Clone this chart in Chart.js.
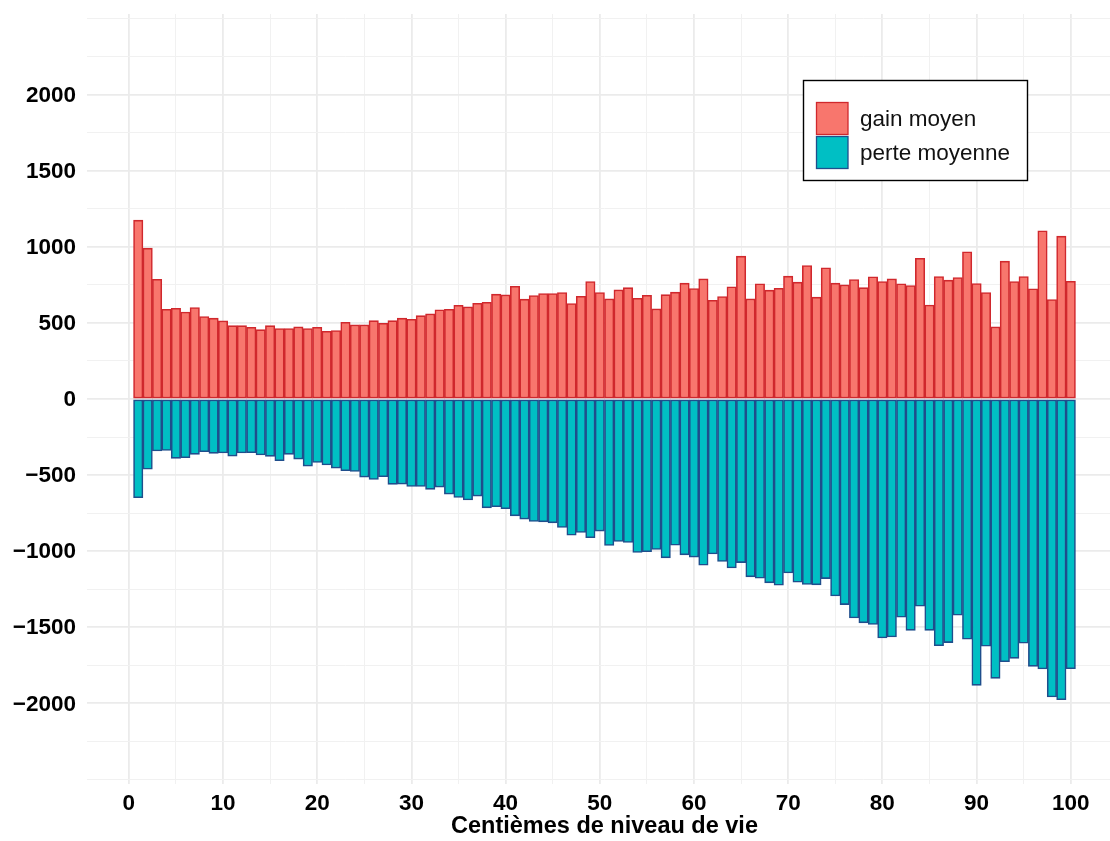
<!DOCTYPE html>
<html>
<head>
<meta charset="utf-8">
<script src="https://cdn.jsdelivr.net/npm/chart.js@4.4.1/dist/chart.umd.min.js"></script>
<style>
  html, body { margin: 0; padding: 0; background: #ffffff; overflow: hidden; }
  #wrap { position: relative; width: 1125px; height: 841px; }
</style>
</head>
<body>
<div id="wrap"><canvas id="c"></canvas></div>
<script>
// ---- data ----
const centiles = [1,2,3,4,5,6,7,8,9,10,11,12,13,14,15,16,17,18,19,20,21,22,23,24,25,26,27,28,29,30,31,32,33,34,35,36,37,38,39,40,41,42,43,44,45,46,47,48,49,50,51,52,53,54,55,56,57,58,59,60,61,62,63,64,65,66,67,68,69,70,71,72,73,74,75,76,77,78,79,80,81,82,83,84,85,86,87,88,89,90,91,92,93,94,95,96,97,98,99,100];

const gainMoyen = [1175, 991, 787, 590, 596, 572, 601, 542, 531, 513,
  482, 482, 471, 456, 482, 463, 463, 474, 463, 471,
  445, 450, 504, 487, 487, 515, 498, 515, 531, 524,
  548, 559, 586, 590, 616, 605, 629, 636, 689, 684,
  741, 656, 680, 693, 693, 700, 627, 675, 772, 700,
  658, 717, 732, 662, 682, 592, 686, 702, 761, 726,
  789, 649, 673, 737, 939, 658, 757, 715, 728, 807,
  768, 877, 669, 862, 761, 750, 785, 732, 803, 772,
  789, 757, 746, 925, 618, 805, 781, 798, 967, 759,
  700, 474, 906, 772, 805, 724, 1105, 654, 1070, 774];

const perteMoyenne = [-649, -461, -342, -338, -390, -386, -364, -346, -357, -355,
  -375, -355, -353, -368, -377, -406, -364, -395, -441, -417,
  -434, -454, -471, -476, -513, -529, -511, -561, -559, -575,
  -575, -594, -579, -625, -647, -664, -638, -715, -708, -721,
  -768, -789, -805, -807, -814, -844, -895, -877, -912, -868,
  -963, -936, -943, -1009, -1004, -989, -1044, -961, -1024, -1039,
  -1092, -1018, -1068, -1110, -1075, -1169, -1178, -1208, -1224, -1143,
  -1204, -1219, -1221, -1180, -1294, -1351, -1439, -1471, -1482, -1570,
  -1564, -1434, -1520, -1362, -1520, -1621, -1601, -1421, -1579, -1882,
  -1625, -1836, -1726, -1704, -1605, -1757, -1774, -1958, -1976, -1772];

const seriesNames = ['gain moyen', 'perte moyenne'];
const xTitle = 'Centièmes de niveau de vie';

// grid / tick positions
const xGridValues = [0,5,10,15,20,25,30,35,40,45,50,55,60,65,70,75,80,85,90,95,100];
const xLabelValues = [0,10,20,30,40,50,60,70,80,90,100];
const yGridValues = [-2500,-2250,-2000,-1750,-1500,-1250,-1000,-750,-500,-250,0,250,500,750,1000,1250,1500,1750,2000,2250,2500];
const yLabelValues = [-2000,-1500,-1000,-500,0,500,1000,1500,2000];

// ---- style ----
const FONT = "'Liberation Sans', Arial, Helvetica, sans-serif";
const redFill = '#F8766D', redLine = '#D0282D';
const tealFill = '#00BFC4', tealLine = '#1F4E8C';
const gridMajor = '#EBEBEB', gridMinor = '#F1F1F1';

const fmt = v => (v < 0 ? '\u2212' + Math.abs(v) : String(v));
const tickVal = c => (c && c.tick ? c.tick.value : null);

const legendPlugin = {
  id: 'boxLegend',
  afterDraw(chart) {
    const ctx = chart.ctx;
    ctx.save();
    const bx = 803.5, by = 80.5, bw = 224, bh = 100;
    ctx.fillStyle = '#ffffff';
    ctx.fillRect(bx, by, bw, bh);
    ctx.lineWidth = 1.4;
    ctx.strokeStyle = '#000000';
    ctx.strokeRect(bx, by, bw, bh);
    const items = [
      { fill: redFill, line: redLine, y: 102.5, text: seriesNames[0] },
      { fill: tealFill, line: tealLine, y: 136.5, text: seriesNames[1] }
    ];
    ctx.font = '22.5px ' + FONT;
    ctx.textBaseline = 'middle';
    ctx.textAlign = 'left';
    items.forEach(it => {
      ctx.fillStyle = it.fill;
      ctx.fillRect(816.5, it.y, 31.5, 32);
      ctx.lineWidth = 1.3;
      ctx.strokeStyle = it.line;
      ctx.strokeRect(816.5, it.y, 31.5, 32);
      ctx.fillStyle = '#111111';
      ctx.fillText(it.text, 860, it.y + 17);
    });
    ctx.restore();
  }
};

new Chart(document.getElementById('c'), {
  type: 'bar',
  data: {
    datasets: [
      {
        label: seriesNames[0],
        data: centiles.map((c, i) => ({ x: c, y: gainMoyen[i] })),
        backgroundColor: redFill,
        borderColor: redLine,
        borderWidth: 1.6,
        borderSkipped: false,
        grouped: false,
        barPercentage: 1.0,
        categoryPercentage: 1.0
      },
      {
        label: seriesNames[1],
        data: centiles.map((c, i) => ({ x: c, y: perteMoyenne[i] })),
        backgroundColor: tealFill,
        borderColor: tealLine,
        borderWidth: 1.6,
        borderSkipped: false,
        grouped: false,
        barPercentage: 1.0,
        categoryPercentage: 1.0
      }
    ]
  },
  options: {
    responsive: true,
    maintainAspectRatio: false,
    animation: false,
    events: [],
    layout: { padding: { left: 0, right: 3, top: 14, bottom: 0 } },
    plugins: {
      legend: { display: false },
      tooltip: { enabled: false },
      title: { display: false }
    },
    scales: {
      x: {
        type: 'linear',
        offset: false,
        min: -4.44,
        max: 105.44,
        afterBuildTicks: s => { s.ticks = xGridValues.map(v => ({ value: v })); },
        afterFit: s => { s.height = 57; s.paddingLeft = 0; s.paddingRight = 0; },
        border: { display: false },
        grid: {
          offset: false,
          drawTicks: false,
          color: c => (xLabelValues.includes(tickVal(c)) ? gridMajor : gridMinor),
          lineWidth: c => (xLabelValues.includes(tickVal(c)) ? 1.8 : 1)
        },
        ticks: {
          autoSkip: false,
          maxRotation: 0,
          padding: 6,
          color: '#000000',
          font: { family: FONT, size: 22.5, weight: 'bold' },
          callback: v => (xLabelValues.includes(v) ? String(v) : '')
        },
        title: {
          display: true,
          text: xTitle,
          color: '#000000',
          font: { family: FONT, size: 23.5, weight: 'bold' },
          padding: { top: 0, bottom: 0 }
        }
      },
      y: {
        type: 'linear',
        min: -2530,
        max: 2530,
        afterBuildTicks: s => { s.ticks = yGridValues.map(v => ({ value: v })); },
        afterFit: s => { s.width = 87; s.paddingTop = 0; s.paddingBottom = 0; },
        border: { display: false },
        grid: {
          drawTicks: false,
          color: c => (yLabelValues.includes(tickVal(c)) ? gridMajor : gridMinor),
          lineWidth: c => (yLabelValues.includes(tickVal(c)) ? 1.8 : 1)
        },
        ticks: {
          autoSkip: false,
          padding: 11,
          labelOffset: 1,
          color: '#000000',
          font: { family: FONT, size: 22.5, weight: 'bold' },
          callback: v => (yLabelValues.includes(v) ? fmt(v) : '')
        }
      }
    }
  },
  plugins: [legendPlugin]
});
</script>
</body>
</html>
